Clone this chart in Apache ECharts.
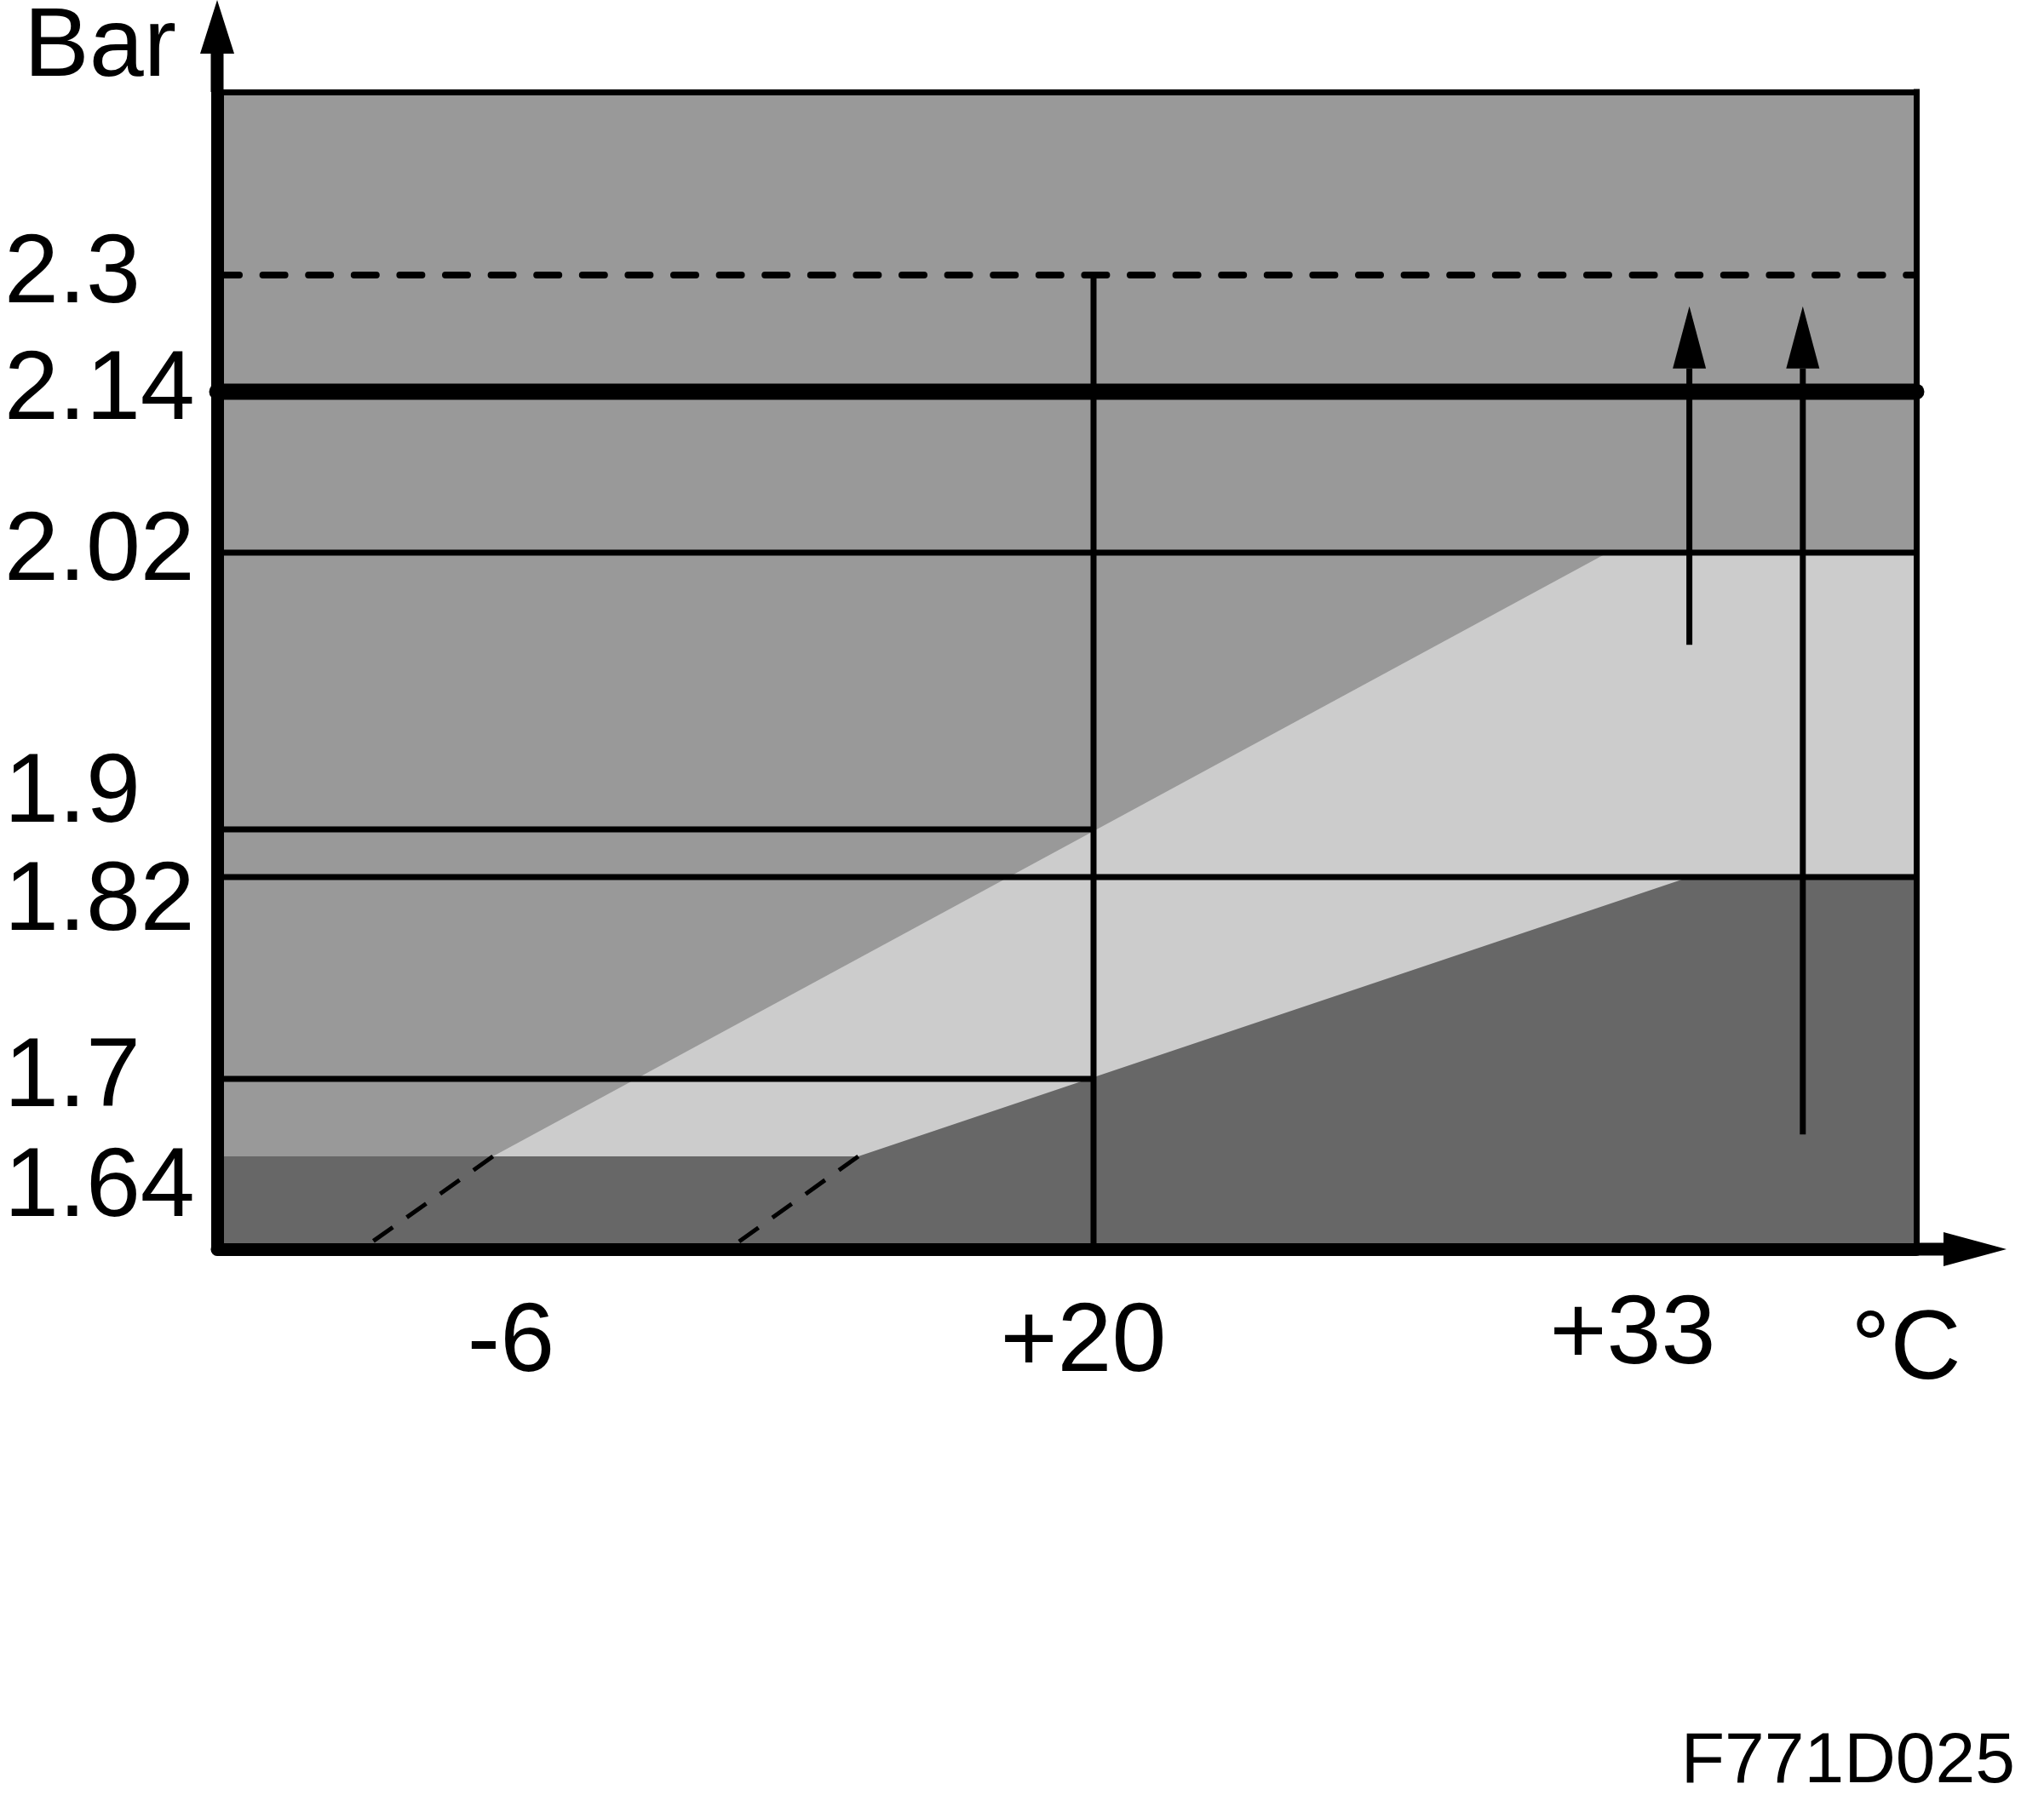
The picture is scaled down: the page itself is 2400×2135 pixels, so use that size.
<!DOCTYPE html>
<html>
<head>
<meta charset="utf-8">
<style>
html,body{margin:0;padding:0;background:#ffffff;}
#chart{width:2400px;height:2135px;}
</style>
<script src="https://cdn.jsdelivr.net/npm/echarts@6/dist/echarts.min.js"></script>
</head>
<body>
<div id="chart"></div>
<script>
// ---------------- DATA ----------------
const Y_TICKS = [1.64, 1.7, 1.82, 1.9, 2.02, 2.14, 2.3];
const Y_TICK_LABELS = ['1.64', '1.7', '1.82', '1.9', '2.02', '2.14', '2.3'];
const X_TICKS = [-6, 20, 33];
const X_TICK_LABELS = ['-6', '+20', '+33'];
const X_DOMAIN = [-19, 40];          // °C at the left / right edge of the plot
const Y_DOMAIN = [1.57, 2.55];       // bar at the bottom / top edge of the plot
// upper edge of the light zone (°C, bar)
const UPPER_EDGE_T = [-6.8, 32.4];
const UPPER_EDGE_P = [1.64, 2.02];
// lower edge of the light zone (°C, bar)
const LOWER_EDGE_T = [9.5, 34.4];
const LOWER_EDGE_P = [1.64, 1.82];
// dashed continuations of the edges down to the axis (°C)
const UPPER_EXT_T = [-6.8, -12.6];
const LOWER_EXT_T = [9.5, 3.7];
// horizontal reference levels (bar)
const DASHED_LEVEL = 2.3;
const THICK_LEVEL = 2.14;
const FULL_LEVELS = [2.02, 1.82];
const SHORT_LEVELS = [1.9, 1.7];     // these stop at the reference temperature
const REF_TEMP = 20;
// arrows (°C, from bar, to bar)
const ARROW_T = [34.4, 37.2];
const ARROW_FROM = [1.98, 1.657];
const ARROW_TO = [2.257, 2.257];

// ---------------- schematic (non-linear) axis scales ----------------
const X_SCALE_IN = [-19, -6, 20, 33, 40];
const X_SCALE_OUT = [0, 345, 1029, 1662, 1995];
const Y_SCALE_IN = [1.57, 1.64, 1.7, 1.82, 1.9, 2.02, 2.14, 2.3, 2.55];
const Y_SCALE_OUT = [0, 109, 200, 437, 493, 818, 1007, 1144, 1359];
function piecewise(v, a, b) {
  let i = 0;
  while (i < a.length - 2 && v > a[i + 1]) i++;
  return b[i] + (v - a[i]) * (b[i + 1] - b[i]) / (a[i + 1] - a[i]);
}
const xu = t => piecewise(t, X_SCALE_IN, X_SCALE_OUT);
const yu = p => piecewise(p, Y_SCALE_IN, Y_SCALE_OUT);
const pt = (t, p) => [xu(t), yu(p)];

const FONT = "'Liberation Sans', Arial, Helvetica, sans-serif";
const FS = 115;
const base = {fontFamily: FONT, fontSize: FS, color: '#000'};

const yLabelMap = {};
Y_TICKS.forEach((t, i) => { yLabelMap[Math.round(yu(t))] = Y_TICK_LABELS[i]; });
const xLabelMap = {};
X_TICKS.forEach((t, i) => { xLabelMap[Math.round(xu(t))] = X_TICK_LABELS[i]; });
const Y_LABEL_STYLE = {'1.9': 'up', '1.82': 'dn1', '1.64': 'dn2'};
const X_LABEL_STYLE = {'+20': 'lft', '+33': 'hi'};

const X_ARROW = 'path://M20,0 L40,74 L27.5,74 L27.5,106 L12.5,106 L12.5,74 L0,74 Z';
const Y_ARROW = 'path://M20,0 L40,63 L27.5,63 L27.5,108 L12.5,108 L12.5,63 L0,63 Z';

function lineSeries(data, style, z) {
  return {
    type: 'line', data: data, symbol: 'none', showSymbol: false, silent: true,
    clip: false, animation: false, z: z || 3,
    lineStyle: Object.assign({color: '#000', width: 7}, style)
  };
}

const series = [];
// light zone: everything under the upper edge
series.push({
  type: 'line', silent: true, animation: false, symbol: 'none', showSymbol: false, z: 1,
  data: [pt(X_DOMAIN[0], UPPER_EDGE_P[0]), pt(UPPER_EDGE_T[0], UPPER_EDGE_P[0]),
         pt(UPPER_EDGE_T[1], UPPER_EDGE_P[1]), pt(X_DOMAIN[1], UPPER_EDGE_P[1])],
  lineStyle: {width: 0, opacity: 0},
  areaStyle: {color: '#cccccc', opacity: 1, origin: 'start'}
});
// dark zone: everything under the lower edge
series.push({
  type: 'line', silent: true, animation: false, symbol: 'none', showSymbol: false, z: 2,
  data: [pt(X_DOMAIN[0], LOWER_EDGE_P[0]), pt(LOWER_EDGE_T[0], LOWER_EDGE_P[0]),
         pt(LOWER_EDGE_T[1], LOWER_EDGE_P[1]), pt(X_DOMAIN[1], LOWER_EDGE_P[1])],
  lineStyle: {width: 0, opacity: 0},
  areaStyle: {color: '#676767', opacity: 1, origin: 'start'}
});
// dashed 2.3 level
series.push(lineSeries([pt(X_DOMAIN[0], DASHED_LEVEL), pt(X_DOMAIN[1], DASHED_LEVEL)],
  {width: 8, type: [26, 27.6], cap: 'round'}));
// thick 2.14 level
series.push(lineSeries([pt(X_DOMAIN[0], THICK_LEVEL), pt(X_DOMAIN[1], THICK_LEVEL)],
  {width: 19, cap: 'round'}, 4));
// full-width levels
FULL_LEVELS.forEach(l => series.push(lineSeries([pt(X_DOMAIN[0], l), pt(X_DOMAIN[1], l)], {})));
// short levels ending at the reference temperature
SHORT_LEVELS.forEach(l => series.push(lineSeries([pt(X_DOMAIN[0], l), pt(REF_TEMP, l)], {})));
// vertical reference line at +20
series.push(lineSeries([pt(REF_TEMP, Y_DOMAIN[0]), pt(REF_TEMP, DASHED_LEVEL)], {}));
// dashed continuations
series.push(lineSeries([pt(UPPER_EXT_T[0], UPPER_EDGE_P[0]), pt(UPPER_EXT_T[1], Y_DOMAIN[0])],
  {width: 5, type: [28, 20]}));
series.push(lineSeries([pt(LOWER_EXT_T[0], LOWER_EDGE_P[0]), pt(LOWER_EXT_T[1], Y_DOMAIN[0])],
  {width: 5, type: [28, 20]}));
// arrows
series.push({
  type: 'custom', coordinateSystem: 'cartesian2d', silent: true, animation: false, clip: false, z: 5,
  encode: {x: 0, y: [1, 2]},
  data: ARROW_T.map((t, i) => [xu(t), yu(ARROW_FROM[i]), yu(ARROW_TO[i])]),
  renderItem: function (params, api) {
    const p0 = api.coord([api.value(0), api.value(1)]);
    const p1 = api.coord([api.value(0), api.value(2)]);
    const head = 73, half = 19.5;
    return {
      type: 'group',
      children: [
        {type: 'line', shape: {x1: p0[0], y1: p0[1], x2: p1[0], y2: p1[1] + head},
         style: {stroke: '#000', lineWidth: 7}},
        {type: 'polygon', shape: {points: [[p1[0], p1[1]], [p1[0] + half, p1[1] + head], [p1[0] - half, p1[1] + head]]},
         style: {fill: '#000'}}
      ]
    };
  }
});

const chart = echarts.init(document.getElementById('chart'), null, {renderer: 'canvas'});
chart.setOption({
  animation: false,
  backgroundColor: '#ffffff',
  title: {
    text: 'F771D025', right: 34, top: 2028, padding: 0,
    textStyle: {fontFamily: FONT, fontSize: 84, fontWeight: 'normal', color: '#000'}
  },
  grid: {
    left: 255, top: 108, width: 1995, height: 1359,
    containLabel: false, outerBoundsMode: 'none',
    show: true, backgroundColor: '#999999', borderWidth: 0
  },
  xAxis: [{
    type: 'value', min: 0, max: 1995, position: 'bottom', zlevel: 1, z: 10,
    name: '{u|°C}', nameLocation: 'end', nameGap: -12, nameMoveOverlap: false,
    nameTextStyle: Object.assign({}, base, {align: 'center', verticalAlign: 'middle',
      rich: {u: Object.assign({}, base, {padding: [240, 0, 0, 0]})}}),
    axisLine: {show: true, onZero: false, lineStyle: {color: '#000', width: 15, cap: 'round'},
      symbol: ['none', X_ARROW], symbolSize: [40, 106], symbolOffset: [0, 53]},
    axisTick: {show: false}, splitLine: {show: false},
    axisLabel: {
      show: true, customValues: X_TICKS.map(xu), margin: 111, verticalAlign: 'middle',
      fontFamily: FONT, fontSize: FS, color: '#000',
      formatter: v => { const s = xLabelMap[Math.round(v)] || ''; return '{' + (X_LABEL_STYLE[s] || 'c') + '|' + s + '}'; },
      rich: {
        c: Object.assign({}, base),
        lft: Object.assign({}, base, {padding: [0, 24, 0, 0]}),
        hi: Object.assign({}, base, {padding: [0, 0, 18, 0]})
      }
    }
  }, {
    type: 'value', min: 0, max: 1995, position: 'top', zlevel: 1, z: 9,
    axisLine: {show: true, onZero: false, lineStyle: {color: '#000', width: 7, cap: 'square'}},
    axisTick: {show: false}, axisLabel: {show: false}, splitLine: {show: false}
  }],
  yAxis: [{
    type: 'value', min: 0, max: 1359, position: 'left', zlevel: 1, z: 10,
    name: 'Bar', nameLocation: 'end', nameGap: -7, nameMoveOverlap: false,
    nameTextStyle: Object.assign({}, base, {align: 'right', verticalAlign: 'bottom', padding: [0, 48, 0, 0]}),
    axisLine: {show: true, onZero: false, lineStyle: {color: '#000', width: 15, cap: 'round'},
      symbol: ['none', Y_ARROW], symbolSize: [40, 108], symbolOffset: [0, 54]},
    axisTick: {show: false}, splitLine: {show: false},
    axisLabel: {
      show: true, customValues: Y_TICKS.map(yu), margin: 250, align: 'left',
      fontFamily: FONT, fontSize: FS, color: '#000',
      formatter: v => { const s = yLabelMap[Math.round(v)] || ''; return '{' + (Y_LABEL_STYLE[s] || 'c') + '|' + s + '}'; },
      rich: {
        c: Object.assign({}, base),
        up: Object.assign({}, base, {padding: [0, 0, 82, 0]}),
        dn1: Object.assign({}, base, {padding: [60, 0, 0, 0]}),
        dn2: Object.assign({}, base, {padding: [76, 0, 0, 0]})
      }
    }
  }, {
    type: 'value', min: 0, max: 1359, position: 'right', zlevel: 1, z: 9,
    axisLine: {show: true, onZero: false, lineStyle: {color: '#000', width: 7, cap: 'square'}},
    axisTick: {show: false}, axisLabel: {show: false}, splitLine: {show: false}
  }],
  series: series
});
</script>
</body>
</html>
